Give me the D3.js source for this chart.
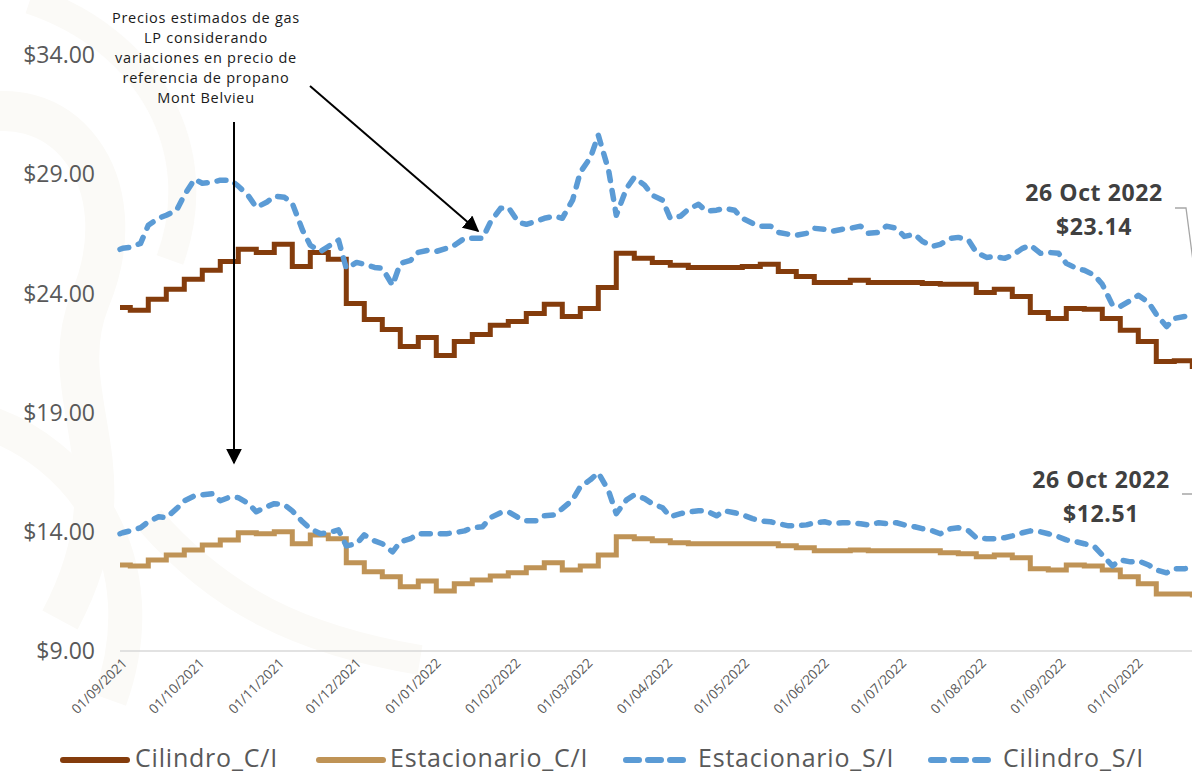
<!DOCTYPE html>
<html>
  <head>
    <meta charset="UTF-8" />
    <title>Precios gas LP</title>
    <script src="https://cdnjs.cloudflare.com/ajax/libs/d3/7.8.5/d3.min.js"></script>
    <style>
      body {
        margin: 0;
        padding: 0;
        background: #fff;
        font-family: "Open Sans", sans-serif;
      }
      #chart {
        display: block;
      }
      .ytick {
        fill: #595959;
        font-size: 23px;
      }
      .xtick {
        fill: #595959;
        font-size: 13.5px;
      }
      .legend-text {
        fill: #595959;
        font-size: 25px;
        letter-spacing: 0.8px;
      }
      .note {
        fill: #1a1a1a;
        font-size: 14.5px;
        text-anchor: middle;
        letter-spacing: 0.75px;
      }
      .last-label {
        fill: #404040;
        font-size: 23px;
        font-weight: 700;
        text-anchor: middle;
        letter-spacing: 0.6px;
      }
    </style>
  </head>

  <body>
    <svg id="chart" width="1192" height="774"></svg>

    <script>
      // weekly prices (con IVA): first value for 1 Sep 2021, then every Sunday up to 23 Oct 2022
      const cilindroCI = [
        23.41, 23.29, 23.75, 24.17, 24.59, 24.97, 25.34, 25.85, 25.72, 26.06,
        25.13, 25.72, 25.43, 23.58, 22.91, 22.49, 21.77, 22.15, 21.39, 21.98,
        22.28, 22.66, 22.82, 23.16, 23.54, 23.03, 23.37, 24.25, 25.68, 25.47,
        25.30, 25.18, 25.09, 25.09, 25.09, 25.13, 25.22, 24.92, 24.71, 24.46,
        24.46, 24.55, 24.46, 24.46, 24.46, 24.42, 24.38, 24.38, 24.04, 24.17,
        23.87, 23.20, 22.95, 23.37, 23.33, 22.95, 22.45, 21.98, 21.14, 21.18,
        20.93
      ];
      const estacionarioCI = [
        12.61, 12.57, 12.82, 13.03, 13.24, 13.45, 13.66, 13.96, 13.92, 14.00,
        13.50, 13.87, 13.71, 12.70, 12.32, 12.11, 11.69, 11.94, 11.52, 11.82,
        11.98, 12.15, 12.28, 12.49, 12.70, 12.40, 12.57, 13.03, 13.79, 13.71,
        13.62, 13.54, 13.50, 13.50, 13.50, 13.50, 13.50, 13.41, 13.33, 13.20,
        13.20, 13.24, 13.20, 13.20, 13.20, 13.20, 13.12, 13.08, 12.95, 13.03,
        12.91, 12.45, 12.40, 12.61, 12.57, 12.40, 12.11, 11.82, 11.39, 11.39,
        11.35
      ];

      // estimated prices (sin IVA): 1 Sep 2021, then Sundays and Thursdays, last value 26 Oct 2022
      const cilindroSI = [
        25.85, 25.89, 25.93, 26.10, 26.86, 27.15, 27.28, 27.49, 28.12, 28.79,
        28.62, 28.66, 28.75, 28.75, 28.50, 28.08, 27.61, 27.82, 28.08, 28.03,
        27.78, 26.65, 26.02, 25.76, 25.97, 26.23, 25.05, 25.30, 25.22, 25.09,
        25.05, 24.34, 25.26, 25.39, 25.72, 25.81, 25.76, 25.89, 26.02, 26.31,
        26.31, 26.31, 26.98, 27.57, 27.61, 26.98, 26.90, 27.03, 27.15, 27.24,
        27.15, 27.91, 29.08, 29.71, 30.64, 29.17, 27.28, 28.41, 28.87, 28.54,
        28.12, 27.91, 27.15, 27.24, 27.53, 27.74, 27.45, 27.49, 27.57, 27.49,
        27.15, 26.94, 26.82, 26.82, 26.56, 26.48, 26.44, 26.52, 26.73, 26.69,
        26.61, 26.69, 26.73, 26.82, 26.52, 26.56, 26.82, 26.73, 26.39, 26.48,
        26.19, 25.97, 26.06, 26.31, 26.35, 26.23, 25.72, 25.51, 25.55, 25.47,
        25.60, 25.89, 26.02, 25.68, 25.72, 25.68, 25.26, 25.05, 24.97, 24.76,
        24.38, 23.50, 23.45, 23.71, 23.92, 23.62, 23.12, 22.61, 22.95, 23.03,
        23.14
      ];
      const estacionarioSI = [
        13.92, 13.96, 14.04, 14.17, 14.42, 14.63, 14.59, 14.97, 15.30, 15.51,
        15.55, 15.60, 15.30, 15.47, 15.43, 15.18, 14.84, 15.05, 15.18, 15.13,
        14.88, 14.42, 14.13, 13.92, 13.96, 14.08, 13.41, 13.50, 13.87, 13.62,
        13.50, 13.16, 13.58, 13.71, 13.92, 13.92, 13.92, 13.92, 13.96, 14.04,
        14.17, 14.21, 14.59, 14.80, 14.84, 14.59, 14.46, 14.46, 14.67, 14.71,
        14.97, 15.34, 15.89, 16.19, 16.48, 15.72, 14.76, 15.34, 15.55, 15.39,
        15.18, 15.01, 14.63, 14.76, 14.84, 14.88, 14.88, 14.67, 14.88, 14.80,
        14.71, 14.55, 14.46, 14.42, 14.34, 14.25, 14.25, 14.29, 14.38, 14.42,
        14.34, 14.38, 14.38, 14.34, 14.29, 14.38, 14.34, 14.38, 14.29, 14.21,
        14.13, 14.04, 13.92, 14.13, 14.17, 14.04, 13.75, 13.71, 13.71, 13.75,
        13.83, 13.96, 14.04, 14.00, 13.92, 13.79, 13.66, 13.58, 13.50, 13.37,
        13.03, 12.57, 12.82, 12.74, 12.78, 12.61, 12.40, 12.28, 12.45, 12.45,
        12.51
      ];

      const yTicks = [9, 14, 19, 24, 29, 34];
      const legendNames = ["Cilindro_C/I", "Estacionario_C/I", "Estacionario_S/I", "Cilindro_S/I"];
      const noteLines = ["Precios estimados de gas", "LP considerando", "variaciones en precio de",
                         "referencia de propano", "Mont Belvieu"];
      const lastLabels = [
        { date: "26 Oct 2022", value: "$23.14" },
        { date: "26 Oct 2022", value: "$12.51" }
      ];

      const startDate = new Date(2021, 8, 1);
      const endDate = new Date(2022, 9, 26);

      // dates for the weekly series and the twice-weekly series
      const sundays = d3.timeSunday.range(new Date(2021, 8, 2), new Date(2022, 9, 24));
      const thursdays = d3.timeThursday.range(new Date(2021, 8, 2), new Date(2022, 9, 24));
      const weekDates = [startDate].concat(sundays);
      const halfWeekDates = [startDate].concat(d3.sort(sundays.concat(thursdays), d => d), [endDate]);

      const svg = d3.select("#chart");
      const colors = { cilC: "#843C0C", estC: "#BF9356", blue: "#5B9BD5" };

      // very faint ornament in the background
      const bg = svg.append("g").attr("fill", "none").attr("stroke", "#fbfaf7");
      bg.append("path").attr("stroke-width", 40).attr("d", "M-40,120 C60,80 140,180 90,300 C50,400 140,470 60,620");
      bg.append("path").attr("stroke-width", 28).attr("d", "M30,0 C150,40 210,150 170,260");
      bg.append("path").attr("stroke-width", 34).attr("d", "M-20,420 C80,450 160,560 110,700");
      bg.append("path").attr("stroke-width", 30).attr("d", "M150,520 C220,600 300,640 420,660");

      const x = d3.scaleTime().domain([startDate, endDate]).range([120, 1200]);
      const y = d3.scaleLinear().domain([9, 34]).range([651, 55]);

      // baseline
      svg.append("line")
        .attr("x1", 120).attr("x2", 1192)
        .attr("y1", y(9)).attr("y2", y(9))
        .attr("stroke", "#d9d9d9").attr("stroke-width", 1.5);

      // y tick labels
      svg.append("g").selectAll("text")
        .data(yTicks)
        .join("text")
        .attr("class", "ytick")
        .attr("x", 95)
        .attr("y", d => y(d))
        .attr("dy", "0.36em")
        .attr("text-anchor", "end")
        .text(d => "$" + d.toFixed(2));

      // x tick labels, rotated
      const months = d3.timeMonth.range(startDate, new Date(2022, 9, 2));
      const fmt = d3.timeFormat("%d/%m/%Y");
      svg.append("g").selectAll("text")
        .data(months)
        .join("text")
        .attr("class", "xtick")
        .attr("text-anchor", "end")
        .attr("transform", d => `translate(${x(d) + 8},${y(9) + 13}) rotate(-45)`)
        .text(d => fmt(d));

      const stepLine = d3.line()
        .x(d => x(d[0]))
        .y(d => y(d[1]))
        .curve(d3.curveStepAfter);
      const smoothLine = d3.line()
        .x(d => x(d[0]))
        .y(d => y(d[1]));

      function stepData(values) {
        const pts = weekDates.map((d, i) => [d, values[i]]);
        pts.push([endDate, values[values.length - 1]]);
        return pts;
      }

      const plot = svg.append("g");
      plot.append("path")
        .attr("d", stepLine(stepData(estacionarioCI)))
        .attr("fill", "none").attr("stroke", colors.estC).attr("stroke-width", 5);
      plot.append("path")
        .attr("d", stepLine(stepData(cilindroCI)))
        .attr("fill", "none").attr("stroke", colors.cilC).attr("stroke-width", 5);

      [estacionarioSI, cilindroSI].forEach(vals => {
        plot.append("path")
          .attr("d", smoothLine(halfWeekDates.map((d, i) => [d, vals[i]])))
          .attr("fill", "none")
          .attr("stroke", colors.blue)
          .attr("stroke-width", 5.5)
          .attr("stroke-linecap", "round")
          .attr("stroke-linejoin", "round")
          .attr("stroke-dasharray", "9 10");
      });

      // arrow marker
      svg.append("defs").append("marker")
        .attr("id", "arrow")
        .attr("viewBox", "0 0 10 10")
        .attr("refX", 9).attr("refY", 5)
        .attr("markerWidth", 16).attr("markerHeight", 16)
        .attr("markerUnits", "userSpaceOnUse")
        .attr("orient", "auto")
        .append("path")
        .attr("d", "M0,0 L10,5 L0,10 z")
        .attr("fill", "#000");

      // note text and arrows
      svg.append("g").selectAll("text")
        .data(noteLines)
        .join("text")
        .attr("class", "note")
        .attr("x", 206)
        .attr("y", (d, i) => 23 + i * 20)
        .text(d => d);

      svg.append("line")
        .attr("x1", 234).attr("y1", 122).attr("x2", 234).attr("y2", 463)
        .attr("stroke", "#000").attr("stroke-width", 2)
        .attr("marker-end", "url(#arrow)");
      svg.append("line")
        .attr("x1", 310).attr("y1", 86).attr("x2", 478).attr("y2", 231)
        .attr("stroke", "#000").attr("stroke-width", 2)
        .attr("marker-end", "url(#arrow)");

      // labels for the last value
      const lastPts = [
        { px: x(endDate), py: y(cilindroSI[cilindroSI.length - 1]), cx: 1094, ty: 201, ly: 208 },
        { px: x(endDate), py: y(estacionarioSI[estacionarioSI.length - 1]), cx: 1101, ty: 488, ly: 494 }
      ];
      lastPts.forEach((p, i) => {
        svg.append("text").attr("class", "last-label")
          .attr("x", p.cx).attr("y", p.ty).text(lastLabels[i].date);
        svg.append("text").attr("class", "last-label")
          .attr("x", p.cx).attr("y", p.ty + 34).text(lastLabels[i].value);
        svg.append("path")
          .attr("d", `M${p.cx + 81},${p.ly} L${p.cx + 92},${p.ly} L${p.px},${p.py}`)
          .attr("fill", "none").attr("stroke", "#a6a6a6").attr("stroke-width", 1.3);
      });

      // legend
      const legendItems = [
        { name: legendNames[0], color: colors.cilC, dash: null, x: 60, tx: 135 },
        { name: legendNames[1], color: colors.estC, dash: null, x: 316, tx: 390 },
        { name: legendNames[2], color: colors.blue, dash: "13 9", x: 623, tx: 698 },
        { name: legendNames[3], color: colors.blue, dash: "13 9", x: 928, tx: 1003 }
      ];
      const legend = svg.append("g");
      legendItems.forEach(item => {
        legend.append("line")
          .attr("x1", item.x + 3).attr("x2", item.x + 67)
          .attr("y1", 760).attr("y2", 760)
          .attr("stroke", item.color).attr("stroke-width", 6)
          .attr("stroke-linecap", "round")
          .attr("stroke-dasharray", item.dash);
        legend.append("text")
          .attr("class", "legend-text")
          .attr("x", item.tx).attr("y", 767)
          .text(item.name);
      });
    </script>
  </body>
</html>
